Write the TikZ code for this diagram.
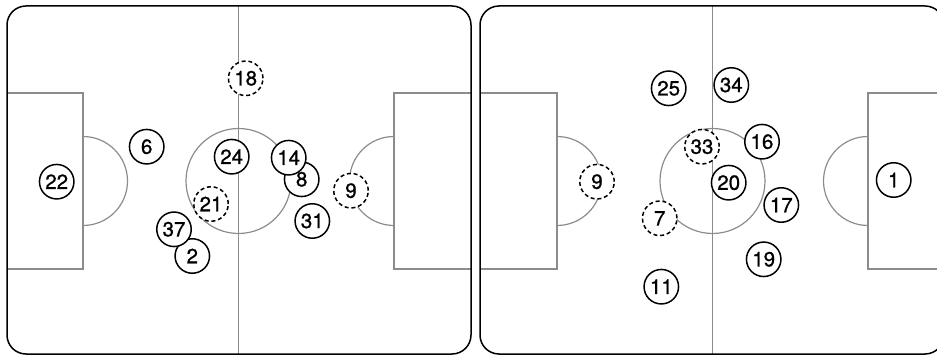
\documentclass[tikz,border=0pt]{standalone}
\usepackage{fontspec}
\setmainfont{TeX Gyre Heros}
\newfontfamily\numfont[FakeBold=0.9]{TeX Gyre Heros}
\begin{document}
\begin{tikzpicture}[x=1pt,y=-1pt,
  frame/.style={draw=black,line width=1.5pt,rounded corners=19pt},
  fieldline/.style={draw=black!45,line width=1.2pt},
  player/.style={circle,draw=black,fill=white,line width=1.5pt,minimum size=34.5pt,inner sep=0pt,font=\numfont\fontsize{20.5}{20.5}\selectfont},
  sub/.style={player,dash pattern=on 4pt off 2.8pt}]
\useasboundingbox (0,0) rectangle (937,355);
\clip (0,0) rectangle (937,355);
% ---------- left pitch ----------
\draw[fieldline] (238.5,6) -- (238.5,354);
\draw[fieldline] (238.5,181) circle (52.5);
\draw[fieldline] (7,93) -- (83,93) -- (83,269) -- (7,269);
\draw[fieldline] (83,136.5) arc[start angle=-90,end angle=90,radius=44.5];
\draw[fieldline] (471,93) -- (394,93) -- (394,269) -- (471,269);
\draw[fieldline] (394,136.5) arc[start angle=-90,end angle=-270,radius=44.5];
\draw[frame] (7,6) rectangle (471,354);
% ---------- right pitch ----------
\draw[fieldline] (712.5,6) -- (712.5,354);
\draw[fieldline] (712.5,181) circle (52.5);
\draw[fieldline] (480,93) -- (557,93) -- (557,269) -- (480,269);
\draw[fieldline] (557,136.5) arc[start angle=-90,end angle=90,radius=44.5];
\draw[fieldline] (944,93) -- (868,93) -- (868,269) -- (944,269);
\draw[fieldline] (868,136.5) arc[start angle=-90,end angle=-270,radius=44.5];
\draw[frame] (480,6) rectangle (944,354);
% ---------- left players ----------
\node[sub] (l18) at (245.7,78.3) {18};
\node[player] (l6) at (146.7,146.7) {6};
\node[player] (l22) at (56.7,181.7) {22};
\node[player] (l24) at (231.7,156.7) {24};
\node[player] (l8) at (301.7,179.3) {8};
\node[player] (l14) at (288.7,157.7) {14};
\node[sub] (l9) at (351,190.7) {9};
\node[sub] (l21) at (211,204) {21};
\node[player] (l31) at (312.3,221) {31};
\node[player] (l2) at (192.3,256) {2};
\node[player] (l37) at (174,229.3) {37};
% ---------- right players ----------
\node[player] (r25) at (668.7,88.3) {25};
\node[player] (r34) at (731.3,85) {34};
\node[sub] (r33) at (702,146.7) {33};
\node[player] (r16) at (762,141.7) {16};
\node[sub] (r9) at (597,181.7) {9};
\node[player] (r20) at (728.7,182.7) {20};
\node[player] (r17) at (781.3,205) {17};
\node[sub] (r7) at (659.7,218.3) {7};
\node[player] (r19) at (763.7,259.3) {19};
\node[player] (r11) at (661.3,286.7) {11};
\node[player] (r1) at (893.7,180) {1};
\end{tikzpicture}
\end{document}
